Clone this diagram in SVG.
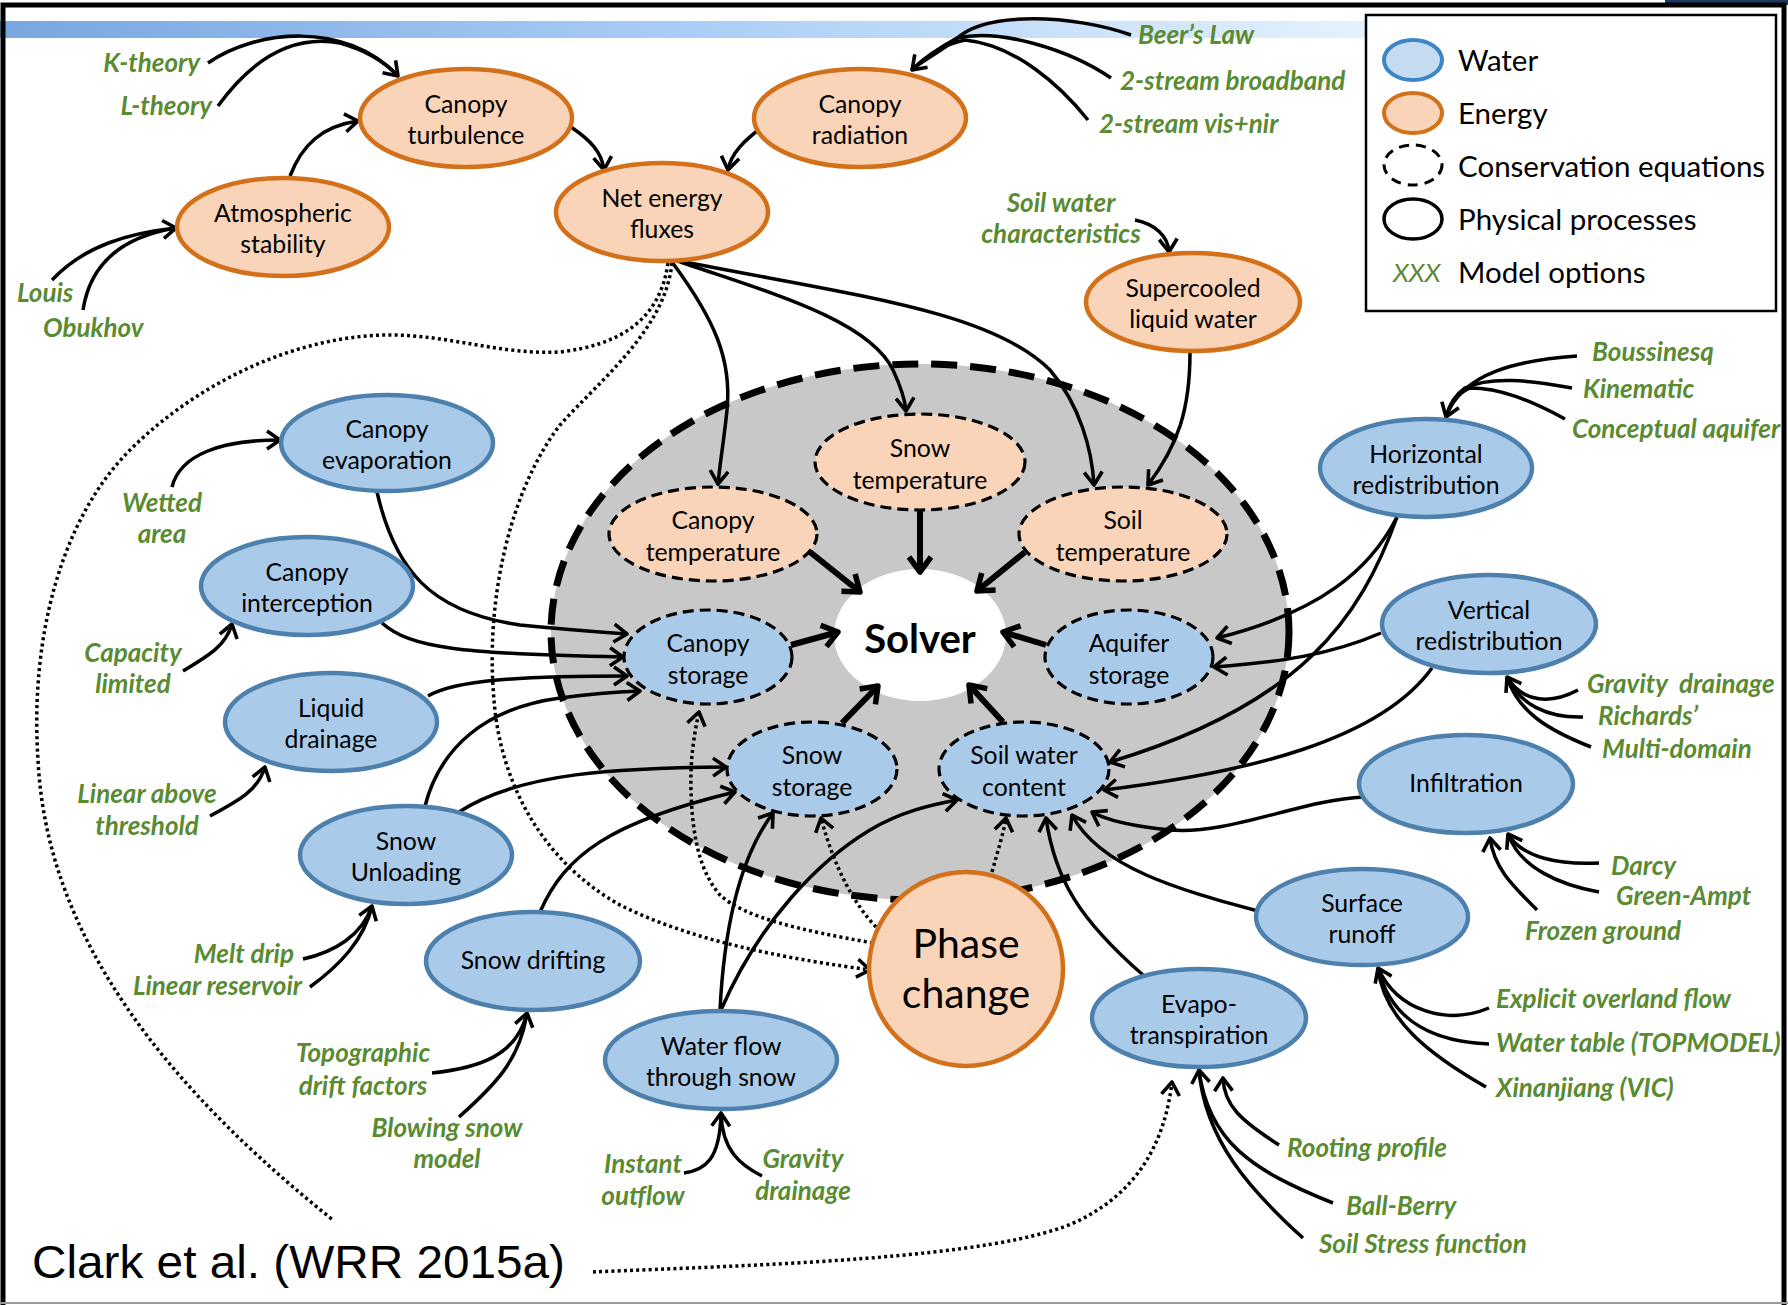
<svg xmlns="http://www.w3.org/2000/svg" width="1788" height="1305" viewBox="0 0 1788 1305">
<defs>
<linearGradient id="band" x1="0" y1="0" x2="1" y2="0">
<stop offset="0" stop-color="#78a6df"/>
<stop offset="0.5" stop-color="#a9cdf6"/>
<stop offset="1" stop-color="#e4f2fd"/>
</linearGradient>
<marker id="ah" viewBox="-16 -11 18 22" refX="0" refY="0" markerWidth="18" markerHeight="22" markerUnits="userSpaceOnUse" orient="auto">
<path d="M-13,-9 L0,0 L-13,9" fill="none" stroke="#000" stroke-width="3.6" stroke-linejoin="round"/>
</marker>
<marker id="ahT" viewBox="-19 -14 22 28" refX="0" refY="0" markerWidth="22" markerHeight="28" markerUnits="userSpaceOnUse" orient="auto">
<path d="M-15,-11 L0,0 L-15,11" fill="none" stroke="#000" stroke-width="5.5" stroke-linejoin="round"/>
</marker>
<style>
.c{fill:none;stroke:#000;stroke-width:3.5}
.t{fill:none;stroke:#000;stroke-width:6}
.d{fill:none;stroke:#000;stroke-width:3.5;stroke-dasharray:3 3.2}
.en{fill:#f9d4b8;stroke:#d3701a;stroke-width:4.5}
.wa{fill:#a9cbe9;stroke:#4d80ac;stroke-width:4.5}
.dsE{fill:#f9d4b8;stroke:#000;stroke-width:3.2;stroke-dasharray:11 6}
.dsW{fill:#a9cbe9;stroke:#000;stroke-width:3.2;stroke-dasharray:11 6}
.lb{font-family:Lato,"Open Sans","Liberation Sans",sans-serif;font-size:24.8px;fill:#000;text-anchor:middle}
.op{font-family:Lato,"Open Sans","Liberation Sans",sans-serif;font-size:26px;font-weight:bold;font-style:italic;fill:#5a8b32}
.lg{font-family:Lato,"Open Sans","Liberation Sans",sans-serif;font-size:29.5px;fill:#000}
</style>
</defs>
<rect x="0" y="0" width="1788" height="1305" fill="#fff"/>
<rect x="0" y="21" width="1370" height="17" fill="url(#band)"/>
<rect x="1665" y="0" width="123" height="5" fill="#1f3864"/>
<path d="M3,1305 L3,5 L1784,5 L1784,1305" fill="none" stroke="#000" stroke-width="5"/>
<line x1="0" y1="1303" x2="1788" y2="1303" stroke="#999" stroke-width="2"/>

<g id="conservation">
<ellipse cx="920" cy="632" rx="369" ry="268" fill="#c8c8c8" stroke="#000" stroke-width="7" stroke-dasharray="26 13"/>
</g>
<g id="solver">
<ellipse cx="920" cy="635" rx="86" ry="66" fill="#fff"/>
<text x="920" y="653" text-anchor="middle" font-family="Lato,'Open Sans','Liberation Sans',sans-serif" font-size="40" font-weight="bold">Solver</text>
</g>

<g id="connectors">
<path class="c" d="M208,63 C255,30 345,20 398,76" marker-end="url(#ah)"/>
<path class="c" d="M218,106 C255,55 295,35 340,43 C365,50 385,62 398,76"/>
<path class="c" d="M290,176 C302,145 322,126 358,121" marker-end="url(#ah)"/>
<path class="c" d="M52,280 C85,245 130,233 176,228" marker-end="url(#ah)"/>
<path class="c" d="M83,310 C90,265 120,237 176,228"/>
<path class="c" d="M571,127 C590,140 602,152 604,170" marker-end="url(#ah)"/>
<path class="c" d="M761,128 C745,140 731,153 728,170" marker-end="url(#ah)"/>
<path class="c" d="M1131,35 C1075,15 985,10 955,40 C935,55 920,62 912,70" marker-end="url(#ah)"/>
<path class="c" d="M1111,78 C1070,50 1000,28 957,38 C935,50 920,62 912,70"/>
<path class="c" d="M1088,120 C1060,85 1015,45 965,40 C940,45 922,60 912,70"/>
<path class="c" d="M1135,220 C1155,224 1168,236 1169,252" marker-end="url(#ah)"/>
<path class="c" d="M672,262 C715,320 732,360 727,410 C724,440 720,462 718,484" marker-end="url(#ah)"/>
<path class="c" d="M675,260 C760,290 868,318 893,370 C900,385 905,398 906,411" marker-end="url(#ah)"/>
<path class="c" d="M675,260 C850,295 990,310 1050,370 C1080,405 1092,450 1094,485" marker-end="url(#ah)"/>
<path class="c" d="M1190,352 C1190,410 1178,445 1148,485" marker-end="url(#ah)"/>

<path class="t" d="M920,511 L920,572" marker-end="url(#ahT)"/>
<path class="t" d="M810,552 L860,592" marker-end="url(#ahT)"/>
<path class="t" d="M1025,552 L977,591" marker-end="url(#ahT)"/>
<path class="t" d="M791,645 L838,632" marker-end="url(#ahT)"/>
<path class="t" d="M1046,645 L1003,632" marker-end="url(#ahT)"/>
<path class="t" d="M842,723 L878,686" marker-end="url(#ahT)"/>
<path class="t" d="M1003,722 L969,685" marker-end="url(#ahT)"/>

<path class="c" d="M377,492 C395,570 430,612 520,625 C570,630 600,632 627,634" marker-end="url(#ah)"/>
<path class="c" d="M382,623 C410,648 460,654 623,657" marker-end="url(#ah)"/>
<path class="c" d="M428,696 C455,680 520,676 627,676" marker-end="url(#ah)"/>
<path class="c" d="M425,806 C440,748 485,708 560,698 C590,694 615,692 640,691" marker-end="url(#ah)"/>
<path class="c" d="M459,812 C520,772 620,768 726,767" marker-end="url(#ah)"/>
<path class="c" d="M540,912 C565,855 610,822 735,792" marker-end="url(#ah)"/>
<path class="c" d="M720,1010 C724,930 738,860 773,813" marker-end="url(#ah)"/>
<path class="c" d="M721,1010 C760,920 820,860 870,830 C900,812 930,805 957,800" marker-end="url(#ah)"/>

<path class="c" d="M1397,517 C1370,570 1320,612 1217,638" marker-end="url(#ah)"/>
<path class="c" d="M1397,517 C1360,620 1300,705 1110,762" marker-end="url(#ah)"/>
<path class="c" d="M1381,633 C1330,655 1280,662 1214,667" marker-end="url(#ah)"/>
<path class="c" d="M1432,668 C1380,740 1250,772 1104,790" marker-end="url(#ah)"/>
<path class="c" d="M1364,797 C1300,800 1230,835 1170,830 C1130,826 1106,820 1092,812" marker-end="url(#ah)"/>
<path class="c" d="M1258,911 C1180,890 1100,868 1072,815" marker-end="url(#ah)"/>
<path class="c" d="M1143,975 C1080,920 1055,880 1046,818" marker-end="url(#ah)"/>

<path class="c" d="M1577,356 C1520,360 1462,372 1446,417" marker-end="url(#ah)"/>
<path class="c" d="M1572,388 C1530,380 1490,376 1465,388 C1455,395 1449,405 1446,417"/>
<path class="c" d="M1565,419 C1530,400 1500,388 1470,388 C1458,393 1450,405 1446,417"/>
<path class="c" d="M1578,690 C1550,705 1522,702 1507,677" marker-end="url(#ah)"/>
<path class="c" d="M1583,717 C1548,718 1520,705 1507,677"/>
<path class="c" d="M1591,747 C1548,730 1518,712 1507,677"/>
<path class="c" d="M1599,863 C1560,865 1522,858 1508,834" marker-end="url(#ah)"/>
<path class="c" d="M1599,892 C1560,885 1520,868 1508,834"/>
<path class="c" d="M1537,910 C1512,885 1494,868 1490,838" marker-end="url(#ah)"/>
<path class="c" d="M1489,1008 C1448,1025 1398,1012 1378,968" marker-end="url(#ah)"/>
<path class="c" d="M1489,1044 C1438,1042 1392,1025 1378,968"/>
<path class="c" d="M1486,1087 C1430,1055 1384,1020 1378,968"/>
<path class="c" d="M1279,1145 C1240,1120 1224,1105 1223,1078" marker-end="url(#ah)"/>
<path class="c" d="M1333,1203 C1250,1170 1208,1140 1199,1070" marker-end="url(#ah)"/>
<path class="c" d="M1303,1238 C1250,1190 1205,1140 1199,1070"/>

<path class="c" d="M172,487 C180,455 220,440 280,440" marker-end="url(#ah)"/>
<path class="c" d="M183,671 C210,655 226,645 232,624" marker-end="url(#ah)"/>
<path class="c" d="M210,816 C240,800 258,790 265,767" marker-end="url(#ah)"/>
<path class="c" d="M303,959 C335,952 362,935 372,906" marker-end="url(#ah)"/>
<path class="c" d="M310,987 C340,965 364,940 372,906"/>
<path class="c" d="M432,1073 C480,1068 517,1055 527,1013" marker-end="url(#ah)"/>
<path class="c" d="M459,1117 C495,1085 520,1060 527,1013"/>
<path class="c" d="M684,1173 C705,1170 720,1160 721,1113" marker-end="url(#ah)"/>
<path class="c" d="M762,1176 C740,1165 722,1150 721,1113"/>

<path class="d" d="M672,263 C665,330 600,380 560,425 C510,490 485,600 494,700 C500,780 540,860 620,905 C700,945 800,960 870,970" marker-end="url(#ah)"/>
<path class="d" d="M668,263 C660,320 620,345 560,352 C500,355 450,335 390,335 C300,335 200,380 130,450 C60,520 30,640 38,760 C45,900 120,1050 333,1220"/>
<path class="d" d="M593,1272 C750,1265 1000,1260 1080,1220 C1140,1190 1165,1140 1172,1082" marker-end="url(#ah)"/>
<path class="d" d="M873,943 C800,930 745,918 720,895 C698,870 692,830 691,790 C690,760 694,735 699,712" marker-end="url(#ah)"/>
<path class="d" d="M876,927 C855,905 835,870 821,818" marker-end="url(#ah)"/>
<path class="d" d="M992,872 C998,850 1003,835 1006,818" marker-end="url(#ah)"/>
</g>

<g id="canopy-turbulence"><ellipse class="en" cx="466" cy="118" rx="106" ry="49"/><text class="lb" x="466" y="113">Canopy</text><text class="lb" x="466" y="144">turbulence</text></g>
<g id="canopy-radiation"><ellipse class="en" cx="860" cy="118" rx="106" ry="49"/><text class="lb" x="860" y="113">Canopy</text><text class="lb" x="860" y="144">radiation</text></g>
<g id="net-energy-fluxes"><ellipse class="en" cx="662" cy="212" rx="106" ry="49"/><text class="lb" x="662" y="207">Net energy</text><text class="lb" x="662" y="238">fluxes</text></g>
<g id="atmospheric-stability"><ellipse class="en" cx="283" cy="227" rx="106" ry="49"/><text class="lb" x="283" y="222">Atmospheric</text><text class="lb" x="283" y="253">stability</text></g>
<g id="supercooled-liquid-water"><ellipse class="en" cx="1193" cy="302" rx="107" ry="49"/><text class="lb" x="1193" y="297">Supercooled</text><text class="lb" x="1193" y="328">liquid water</text></g>
<g id="phase-change"><circle class="en" cx="966" cy="969" r="97"/><text class="lb" x="966" y="958" style="font-size:41px">Phase</text><text class="lb" x="966" y="1008" style="font-size:41px">change</text></g>

<g id="snow-temperature"><ellipse class="dsE" cx="920" cy="462" rx="105" ry="48"/><text class="lb" x="920" y="457">Snow</text><text class="lb" x="920" y="489">temperature</text></g>
<g id="canopy-temperature"><ellipse class="dsE" cx="713" cy="534" rx="104" ry="47"/><text class="lb" x="713" y="529">Canopy</text><text class="lb" x="713" y="561">temperature</text></g>
<g id="soil-temperature"><ellipse class="dsE" cx="1123" cy="534" rx="104" ry="47"/><text class="lb" x="1123" y="529">Soil</text><text class="lb" x="1123" y="561">temperature</text></g>
<g id="canopy-storage"><ellipse class="dsW" cx="708" cy="657" rx="84" ry="47"/><text class="lb" x="708" y="652">Canopy</text><text class="lb" x="708" y="684">storage</text></g>
<g id="aquifer-storage"><ellipse class="dsW" cx="1129" cy="657" rx="84" ry="47"/><text class="lb" x="1129" y="652">Aquifer</text><text class="lb" x="1129" y="684">storage</text></g>
<g id="snow-storage"><ellipse class="dsW" cx="812" cy="769" rx="85" ry="47"/><text class="lb" x="812" y="764">Snow</text><text class="lb" x="812" y="796">storage</text></g>
<g id="soil-water-content"><ellipse class="dsW" cx="1024" cy="769" rx="85" ry="47"/><text class="lb" x="1024" y="764">Soil water</text><text class="lb" x="1024" y="796">content</text></g>

<g id="canopy-evaporation"><ellipse class="wa" cx="387" cy="443" rx="106" ry="48"/><text class="lb" x="387" y="438">Canopy</text><text class="lb" x="387" y="469">evaporation</text></g>
<g id="canopy-interception"><ellipse class="wa" cx="307" cy="586" rx="106" ry="49"/><text class="lb" x="307" y="581">Canopy</text><text class="lb" x="307" y="612">interception</text></g>
<g id="liquid-drainage"><ellipse class="wa" cx="331" cy="722" rx="106" ry="49"/><text class="lb" x="331" y="717">Liquid</text><text class="lb" x="331" y="748">drainage</text></g>
<g id="snow-unloading"><ellipse class="wa" cx="406" cy="855" rx="106" ry="49"/><text class="lb" x="406" y="850">Snow</text><text class="lb" x="406" y="881">Unloading</text></g>
<g id="snow-drifting"><ellipse class="wa" cx="533" cy="961" rx="107" ry="49"/><text class="lb" x="533" y="969">Snow drifting</text></g>
<g id="water-flow-through-snow"><ellipse class="wa" cx="721" cy="1060" rx="116" ry="49"/><text class="lb" x="721" y="1055">Water flow</text><text class="lb" x="721" y="1086">through snow</text></g>
<g id="evapotranspiration"><ellipse class="wa" cx="1199" cy="1018" rx="107" ry="49"/><text class="lb" x="1199" y="1013">Evapo-</text><text class="lb" x="1199" y="1044">transpiration</text></g>
<g id="surface-runoff"><ellipse class="wa" cx="1362" cy="917" rx="106" ry="48"/><text class="lb" x="1362" y="912">Surface</text><text class="lb" x="1362" y="943">runoff</text></g>
<g id="infiltration"><ellipse class="wa" cx="1466" cy="784" rx="107" ry="49"/><text class="lb" x="1466" y="792">Infiltration</text></g>
<g id="vertical-redistribution"><ellipse class="wa" cx="1489" cy="624" rx="107" ry="49"/><text class="lb" x="1489" y="619">Vertical</text><text class="lb" x="1489" y="650">redistribution</text></g>
<g id="horizontal-redistribution"><ellipse class="wa" cx="1426" cy="468" rx="106" ry="49"/><text class="lb" x="1426" y="463">Horizontal</text><text class="lb" x="1426" y="494">redistribution</text></g>

<g id="options">
<text class="op" x="200" y="72" text-anchor="end">K-theory</text>
<text class="op" x="212" y="115" text-anchor="end">L-theory</text>
<text class="op" x="17" y="302">Louis</text>
<text class="op" x="43" y="337">Obukhov</text>
<text class="op" x="1138" y="44">Beer’s Law</text>
<text class="op" x="1120" y="90">2-stream broadband</text>
<text class="op" x="1099" y="133">2-stream vis+nir</text>
<text class="op" x="1061" y="212" text-anchor="middle">Soil water</text>
<text class="op" x="1061" y="243" text-anchor="middle">characteristics</text>
<text class="op" x="162" y="512" text-anchor="middle">Wetted</text>
<text class="op" x="162" y="543" text-anchor="middle">area</text>
<text class="op" x="133" y="662" text-anchor="middle">Capacity</text>
<text class="op" x="133" y="693" text-anchor="middle">limited</text>
<text class="op" x="147" y="803" text-anchor="middle">Linear above</text>
<text class="op" x="147" y="835" text-anchor="middle">threshold</text>
<text class="op" x="294" y="963" text-anchor="end">Melt drip</text>
<text class="op" x="302" y="995" text-anchor="end">Linear reservoir</text>
<text class="op" x="363" y="1062" text-anchor="middle">Topographic</text>
<text class="op" x="363" y="1095" text-anchor="middle">drift factors</text>
<text class="op" x="447" y="1137" text-anchor="middle">Blowing snow</text>
<text class="op" x="447" y="1168" text-anchor="middle">model</text>
<text class="op" x="643" y="1173" text-anchor="middle">Instant</text>
<text class="op" x="643" y="1205" text-anchor="middle">outflow</text>
<text class="op" x="803" y="1168" text-anchor="middle">Gravity</text>
<text class="op" x="803" y="1200" text-anchor="middle">drainage</text>
<text class="op" x="1592" y="361">Boussinesq</text>
<text class="op" x="1583" y="398">Kinematic</text>
<text class="op" x="1572" y="438">Conceptual aquifer</text>
<text class="op" x="1587" y="693" style="white-space:pre">Gravity  drainage</text>
<text class="op" x="1598" y="725">Richards’</text>
<text class="op" x="1602" y="758">Multi-domain</text>
<text class="op" x="1611" y="875">Darcy</text>
<text class="op" x="1616" y="905">Green-Ampt</text>
<text class="op" x="1525" y="940">Frozen ground</text>
<text class="op" x="1496" y="1008">Explicit overland flow</text>
<text class="op" x="1496" y="1052">Water table (TOPMODEL)</text>
<text class="op" x="1496" y="1097">Xinanjiang (VIC)</text>
<text class="op" x="1287" y="1157">Rooting profile</text>
<text class="op" x="1346" y="1215">Ball-Berry</text>
<text class="op" x="1319" y="1253">Soil Stress function</text>
</g>

<g id="citation">
<text x="32" y="1278" font-family="'Liberation Sans',Arial,sans-serif" font-size="46" textLength="533" lengthAdjust="spacingAndGlyphs">Clark et al. (WRR 2015a)</text>
</g>

<g id="legend">
<rect x="1366" y="15" width="410" height="296" fill="#fff" stroke="#000" stroke-width="2.5"/>
<ellipse cx="1413" cy="60" rx="29" ry="20" fill="#c5dcf0" stroke="#3b86c7" stroke-width="4"/>
<text class="lg" x="1458" y="71">Water</text>
<ellipse cx="1413" cy="113" rx="29" ry="20" fill="#f9d4b8" stroke="#d3701a" stroke-width="4"/>
<text class="lg" x="1458" y="124">Energy</text>
<ellipse cx="1413" cy="165" rx="29" ry="20" fill="#fff" stroke="#000" stroke-width="3" stroke-dasharray="10 7"/>
<text class="lg" x="1458" y="177">Conservation equations</text>
<ellipse cx="1413" cy="219" rx="29" ry="20" fill="#fff" stroke="#000" stroke-width="3.5"/>
<text class="lg" x="1458" y="230">Physical processes</text>
<text class="op" x="1393" y="282" style="font-weight:normal">XXX</text>
<text class="lg" x="1458" y="283">Model options</text>
</g>
</svg>
